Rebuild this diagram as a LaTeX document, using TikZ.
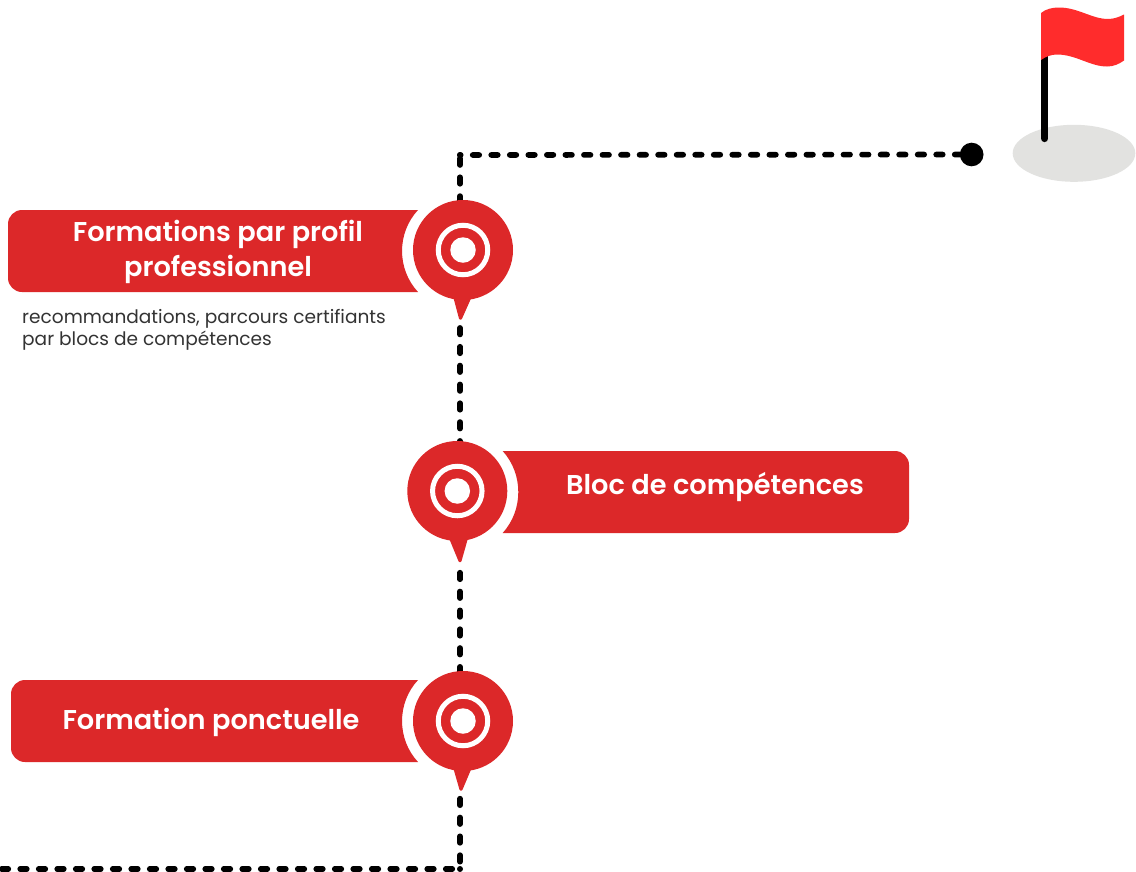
\documentclass[tikz,border=0pt]{standalone}
\usepackage{fontspec}
\setmainfont{Poppins}[BoldFont=* SemiBold]
\usetikzlibrary{backgrounds,shapes.geometric}
\definecolor{brandred}{HTML}{DC2829}
\definecolor{flagred}{HTML}{FF2C2C}
\definecolor{groundgrey}{HTML}{E2E2E0}
\definecolor{bodygrey}{HTML}{333333}
\tikzset{
  banner/.style={fill=brandred,draw=none},
  pinbody/.style={circle,fill=brandred,draw=none,minimum size=100pt,inner sep=0pt},
  pinring/.style={circle,draw=white,line width=5pt,fill=none,minimum size=49.5pt,inner sep=0pt},
  pincore/.style={circle,fill=white,draw=none,minimum size=25.5pt,inner sep=0pt},
  pintail/.style={fill=brandred,draw=brandred,line width=2pt,line join=round},
  title/.style={text=white,font=\bfseries\fontsize{27.2}{35.7}\selectfont,align=center,inner sep=0pt},
  body/.style={text=bodygrey,font=\fontsize{18.55}{22.5}\selectfont,align=left,inner sep=0pt,anchor=north west},
  trail/.style={line width=5.7pt,line cap=round},
  trailv/.style={trail,dash pattern=on 6.5pt off 12.33pt},
  cornerdot/.style={circle,fill=black,minimum size=6pt,inner sep=0pt},
}
\begin{document}
\begin{tikzpicture}[x=1pt,y=-1pt]
\useasboundingbox (0,0) rectangle (1136,871);
% route coordinates
\coordinate (routestart) at (0,869);
\node[cornerdot] (cornerlow) at (460,869) {};
\node[cornerdot] (cornerhigh) at (460,155) {};
\coordinate (tipone) at (460,322);
\coordinate (tiptwo) at (460,565);
\coordinate (tipthree) at (460,793);
% flag and ground
\node[ellipse,fill=groundgrey,minimum width=122.6pt,minimum height=57pt,inner sep=0pt] (ground) at (1074,153.3) {};
\coordinate (poletop) at (1044.7,50);
\coordinate (polefoot) at (1044.7,138.5);
\draw[line width=7.3pt,line cap=round] (poletop) -- (polefoot);
\fill[flagred] (1041,13) .. controls (1046,9) and (1052,7.5) .. (1059,7.5)
  .. controls (1078,7.5) and (1092,19) .. (1108,19)
  .. controls (1114,19) and (1119,17) .. (1124,14.5)
  -- (1124,60.5) .. controls (1119,64) and (1114,66.5) .. (1107,66.5)
  .. controls (1090,66.5) and (1076,54.5) .. (1057,54.5)
  .. controls (1051,54.5) and (1046,56.5) .. (1041,60) -- cycle;
\node[circle,fill=black,minimum size=23.6pt,inner sep=0pt] (goal) at (971.7,154.5) {};
% banner 1
\fill[banner] (418,210) -- (22,210) .. controls (14.3,210) and (8,216.3) .. (8,224) -- (8,278)
  .. controls (8,285.7) and (14.3,292) .. (22,292) -- (418,292)
  .. controls (396.7,269) and (396.7,233) .. (418,210) -- cycle;
% banner 2
\fill[banner] (502.7,451) -- (895,451) .. controls (902.7,451) and (909,457.3) .. (909,465) -- (909,519)
  .. controls (909,526.7) and (902.7,533) .. (895,533) -- (502.7,533)
  .. controls (523.5,510) and (523.5,474) .. (502.7,451) -- cycle;
% banner 3
\fill[banner] (418,680) -- (25,680) .. controls (17.3,680) and (11,686.3) .. (11,694) -- (11,748)
  .. controls (11,755.7) and (17.3,762) .. (25,762) -- (418,762)
  .. controls (396.7,739) and (396.7,703) .. (418,680) -- cycle;
% pins
\node[pinbody] (pinone) at (463,250) {};
\node[pinbody] (pintwo) at (457.3,491) {};
\node[pinbody] (pinthree) at (463,721) {};
\filldraw[pintail] (454,296) -- (471,296) -- (461,318.5) -- (460,318.5) -- cycle;
\filldraw[pintail] (450,538) -- (467,538) -- (460.5,561) -- (459.5,561) -- cycle;
\filldraw[pintail] (454,767) -- (471,767) -- (461.5,789.5) -- (460.5,789.5) -- cycle;
\foreach \p in {pinone,pintwo,pinthree}{
  \node[pinring] at (\p) {};
  \node[pincore] at (\p) {};
}
% labels
\node[title] (labelone) at (218,251.8) {Formations par profil\\professionnel};
\node[title] (labeltwo) at (715,487) {Bloc de compétences};
\node[title] (labelthree) at (211,722.5) {Formation ponctuelle};
\node[body] (note) at (22,309) {recommandations, parcours certifiants\\par blocs de compétences};
% dotted route behind everything
\begin{scope}[on background layer]
\fill[white] (0,0) rectangle (1136,871);
\draw[trail,dash pattern=on 6.5pt off 12.04pt,dash phase=8.09pt] (goal.center) -- (cornerhigh.center);
\draw[trailv,dash phase=15.38pt] (cornerhigh.center) -- (pinone.center -| cornerhigh.center);
\draw[trailv,dash phase=12.91pt] (tipone) -- (pintwo.center -| cornerhigh.center);
\draw[trailv,dash phase=11.12pt] (tiptwo) -- (pinthree.center -| cornerhigh.center);
\draw[trailv,dash phase=13.16pt] (tipthree) -- (cornerlow.center);
\draw[trail,dash pattern=on 6.5pt off 12pt,dash phase=10.75pt] (cornerlow.center) -- (routestart);
\end{scope}
\end{tikzpicture}
\end{document}
